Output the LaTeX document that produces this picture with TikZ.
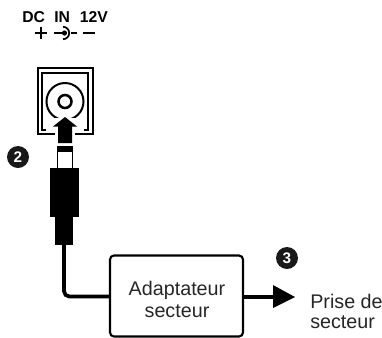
\documentclass[tikz,border=0pt]{standalone}
\usepackage{fontspec}
\setmainfont{Liberation Sans}
\tikzset{
  ink/.style={draw=black,line width=1.5pt},
  thin ink/.style={draw=black,line width=1.3pt},
  lbl/.style={inner sep=0pt,font=\fontsize{14.8pt}{16.5pt}\selectfont,text=black!85},
  badge/.style={circle,fill=black!90,text=white,inner sep=0pt,minimum size=16.5pt,font=\bfseries\fontsize{11.5pt}{11.5pt}\selectfont},
  dc/.style={inner sep=0pt,anchor=base west,font=\bfseries\fontsize{11.8pt}{11.8pt}\selectfont},
}
\begin{document}
\begin{tikzpicture}[x=0.75pt,y=-0.75pt]
\useasboundingbox (0,0) rectangle (382,337);
% labels on top
\node[dc] (dcl) at (22,22) {DC};
\node[dc] (inl) at (54,22) {IN};
\node[dc] (vl) at (79.5,22) {12V};
\draw[thin ink] (35,33)--(47,33) (41,27)--(41,39);
\draw[thin ink] (83,33)--(95,33);
\draw[thin ink] (53.5,33)--(65,33) (71,33)--(77,33);
\draw[thin ink] (63,26.8) arc[start angle=-90,end angle=90,radius=6.2];
\fill (64.5,33) circle[radius=2.6];
% socket
\draw[ink] (37.5,68) rectangle (92.5,134);
\draw[ink] (46,129.5)--(42,129.5)--(42,73)--(88,73)--(88,129.5)--(84,129.5);
\draw[ink] (65,101.5) circle[radius=18.5];
\draw[draw=black,line width=1.9pt] (65,101.5) circle[radius=6.5];
% white halo and arrow
\fill[white] (53,118) rectangle (77,135.2);
\draw[ink] (37.5,134)--(55,134) (75,134)--(92.5,134);
\draw[ink] (42,129.5)--(46,129.5) (84,129.5)--(88,129.5);
\fill (65,117)--(77,126.5)--(72,126.5)--(72,143)--(58,143)--(58,126.5)--(53,126.5)--cycle;
% plug
\fill (57,146) rectangle (73,152);
\draw[thin ink] (57.5,146)--(57.5,168) (72.5,146)--(72.5,168);
\fill (50,168) rectangle (79,217);
\fill (55,217) rectangle (73,245);
\coordinate (plug) at (64,245);
% adapter
\node[draw=black,line width=1.6pt,rounded corners=3pt,minimum width=133*0.75pt,minimum height=81*0.75pt,inner sep=0pt] (box) at (176.5,296) {};
\node[lbl,anchor=base] (a1) at (177,295) {Adaptateur};
\node[lbl,anchor=base] (a2) at (177,317) {secteur};
\coordinate (tip) at (295,297);
\draw[line width=2.8pt,rounded corners=4pt] (plug)--(64,296.5)--(box.west|-{64,296.5});
\draw[line width=3.2pt] (box.east|-tip)--(274,297);
\fill (273,285)--(tip)--(273,308)--cycle;
% outlet label
\node[lbl,anchor=base west] (p1) at (310,308) {Prise de};
\node[lbl,anchor=base west] (p2) at (310,328) {secteur};
% badges
\node[badge] (b2) at (18,157) {2};
\node[badge] (b3) at (287,258) {3};
\end{tikzpicture}
\end{document}
